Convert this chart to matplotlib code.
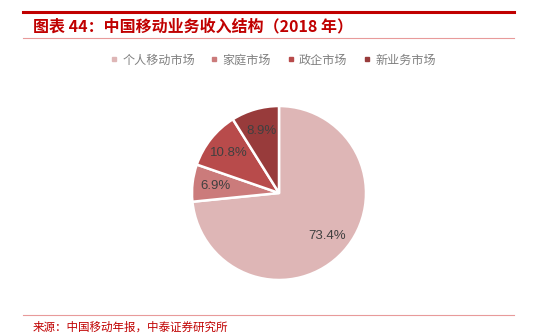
import matplotlib
matplotlib.use("Agg")
import matplotlib.pyplot as plt
from matplotlib.lines import Line2D

plt.rcParams['font.family'] = ['Noto Sans CJK SC', 'DejaVu Sans']

categories = ["个人移动市场", "家庭市场", "政企市场", "新业务市场"]
values = [73.4, 6.9, 10.8, 8.9]
colors = ["#DEB6B6", "#CB7B7B", "#B84B4B", "#983B3B"]

W, H = 541, 333
fig = plt.figure(figsize=(W/100, H/100), dpi=100)

def fx(x): return x / W
def fy(y): return 1 - y / H

# header lines
fig.add_artist(Line2D([fx(23), fx(514)], [fy(12), fy(12)], color="#C00000", lw=2.2))
fig.add_artist(Line2D([fx(23), fx(514)], [fy(38), fy(38)], color="#E89A9A", lw=0.8))
fig.text(fx(33), fy(26), "图表 44：中国移动业务收入结构（2018 年）", color="#C00000",
         fontsize=11.5, fontweight="bold", fontstyle="italic", va="center", ha="left")

# pie
cx, cy, r = 279, 193, 87
ax = fig.add_axes([fx(cx - r), fy(cy + r), 2*r/W, 2*r/H])
wedges, texts, autotexts = ax.pie(values, colors=colors, startangle=90, counterclock=False,
       autopct="%.1f%%", pctdistance=0.74,
       wedgeprops=dict(edgecolor="white", linewidth=1.8),
       textprops=dict(fontsize=9.5, color="#404040", family=["Liberation Sans", "DejaVu Sans"]))
ax.set_xlim(-1, 1); ax.set_ylim(-1, 1)
ax.set_aspect("equal")
ax.axis("off")

# legend
handles = [Line2D([], [], marker="s", linestyle="none", markersize=3.5,
                  markerfacecolor=c, markeredgecolor=c) for c in colors]
fig.legend(handles, categories, loc="center", bbox_to_anchor=(fx(273), fy(60)), ncol=4,
           frameon=False, fontsize=8.7, labelcolor="#808080", handlelength=0.6,
           handletextpad=0.4, columnspacing=1.3)

# footer
fig.add_artist(Line2D([fx(23), fx(514)], [fy(315), fy(315)], color="#E89A9A", lw=0.8))
fig.text(fx(33), fy(327), "来源：中国移动年报，中泰证券研究所", color="#C00000",
         fontsize=8.3, va="center", ha="left")

fig.savefig("out.png", dpi=100)
